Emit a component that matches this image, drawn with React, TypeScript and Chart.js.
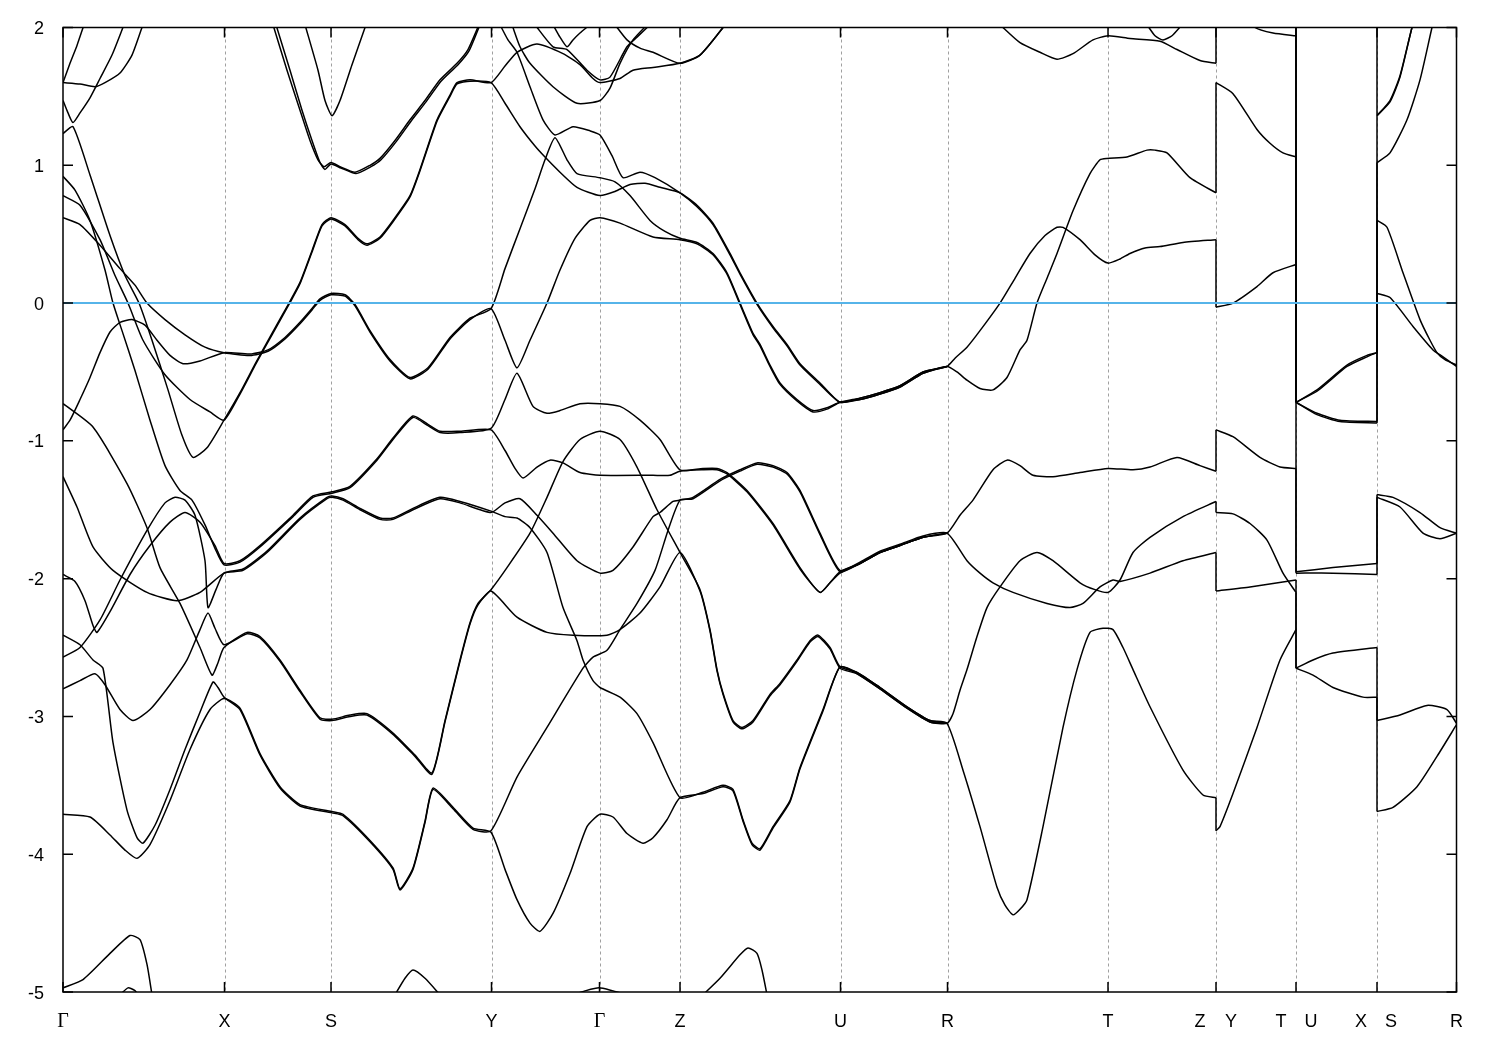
import React, { useEffect, useRef } from 'react';
import { Chart, registerables } from 'chart.js';
Chart.register(...registerables);

type P = [number, number];

// high-symmetry k positions (path distance units) and labels
const hsPositions = [0, 161.5, 268, 428.5, 536.5, 617, 777.5, 884.5, 1045, 1153, 1233, 1314, 1393.5];
const xLabels = ['Γ', 'X', 'S', 'Y', 'Γ', 'Z', 'U', 'R', 'T', 'Z', 'Y', 'T', 'U', 'X', 'S', 'R'];
const xLabelPos = [0, 161.5, 268, 428.5, 536.5, 617, 777.5, 884.5, 1045, 1153, 1153, 1233, 1233, 1314, 1314, 1393.5];
const xLabelShift = [0, 0, 0, 0, 0, 0, 0, 0, 0, -16, 15, -15, 15, -16, 14, 0];
const yTicks = [2, 1, 0, -1, -2, -3, -4, -5];
const fermiLine: P[] = [[0, 0], [1393.5, 0]];

const band01: P[] = [[0,1.60],[17,1.59],[32,1.57],[42,1.60],[57,1.67],[69,1.80],[79,2.00],[82,2.05]];
const band02: P[] = [[0,1.60],[7,1.74],[14,1.87],[21,2.02]];
const band03: P[] = [[0,1.47],[5,1.38],[10,1.31],[17,1.38],[27,1.49],[37,1.63],[49,1.80],[61,2.02]];
const band04: P[] = [[0,1.23],[10,1.28],[27,0.93],[47,0.49],[62,0.20],[76,0],[89,-0.27],[105,-0.63],[119,-0.96],[130,-1.12],[144,-1.05],[161,-0.85],[177,-0.65],[193,-0.43],[209,-0.22],[226,0],[237,0.15],[249,0.38],[259,0.57],[268,0.62],[282,0.57],[295,0.47],[304,0.43],[317,0.48],[330,0.60],[347,0.78],[357,0.97],[374,1.33],[387,1.51],[394,1.60],[407,1.62],[428,1.60],[442,1.72],[454,1.82],[474,1.88],[500,1.81],[517,1.73],[530,1.63],[537,1.60],[557,1.63],[570,1.69],[590,1.71],[617,1.74],[637,1.80],[660,2.0],[664,2.05]];
const band05: P[] = [[0,0.78],[17,0.71],[37,0.46],[52,0.20],[65,0],[80,-0.27],[102,-0.52],[127,-0.70],[147,-0.79],[161,-0.85],[177,-0.66],[193,-0.44],[209,-0.23],[226,-0.01],[237,0.14],[249,0.37],[259,0.56],[268,0.61],[282,0.56],[295,0.46],[304,0.42],[317,0.47],[330,0.59],[347,0.77],[357,0.96],[374,1.32],[387,1.50],[394,1.59],[407,1.61],[428,1.60],[442,1.45],[457,1.28],[472,1.14],[482,1.06],[497,0.95],[514,0.84],[537,0.78],[552,0.81],[567,0.86],[582,0.87],[597,0.84],[617,0.80],[634,0.71],[650,0.58],[667,0.36],[677,0.22],[694,0],[710,-0.17],[724,-0.30],[737,-0.44],[757,-0.58],[777,-0.72],[797,-0.69],[817,-0.65],[837,-0.60],[860,-0.50],[884,-0.46]];
const band06: P[] = [[0,-0.92],[7,-0.85],[17,-0.70],[27,-0.54],[37,-0.36],[47,-0.21],[57,-0.14],[69,-0.12],[82,-0.16],[94,-0.27],[107,-0.38],[120,-0.44],[137,-0.42],[161,-0.36],[187,-0.37],[205,-0.34],[222,-0.25],[237,-0.14],[249,-0.04],[257,0.03],[268,0.07],[282,0.06],[292,-0.01],[307,-0.20],[327,-0.41],[347,-0.54],[365,-0.47],[387,-0.25],[407,-0.11],[428,-0.04],[442,0.25],[457,0.54],[472,0.83],[482,1.04],[492,1.20],[504,1.04],[514,0.94],[537,0.91],[552,0.88],[567,0.78],[587,0.60],[602,0.52],[617,0.47],[634,0.44],[650,0.36],[664,0.22],[677,0],[690,-0.22],[697,-0.30],[707,-0.45],[717,-0.58],[734,-0.70],[750,-0.78],[764,-0.76],[777,-0.72],[797,-0.70],[817,-0.66],[837,-0.61],[860,-0.51],[884,-0.46]];
const band07: P[] = [[0,0.62],[17,0.57],[37,0.42],[57,0.25],[72,0.13],[84,0],[102,-0.12],[122,-0.23],[142,-0.32],[161,-0.36],[187,-0.38],[205,-0.35],[222,-0.26],[237,-0.15],[249,-0.05],[257,0.02],[268,0.06],[282,0.05],[292,-0.02],[307,-0.21],[327,-0.42],[347,-0.55],[365,-0.48],[387,-0.26],[407,-0.12],[428,-0.04],[442,-0.27],[454,-0.47],[467,-0.27],[484,0],[497,0.24],[512,0.47],[527,0.60],[537,0.62],[557,0.58],[590,0.48],[617,0.46],[634,0.43],[650,0.35],[664,0.21],[677,-0.01],[690,-0.23],[697,-0.31],[707,-0.46],[717,-0.59],[734,-0.71],[750,-0.79],[764,-0.77],[777,-0.72],[797,-0.69],[817,-0.65],[837,-0.60],[860,-0.50],[884,-0.46],[892,-0.40],[904,-0.32],[917,-0.20],[937,0],[952,0.18],[967,0.36],[982,0.49],[994,0.55],[1000,0.55],[1017,0.46],[1032,0.35],[1045,0.29],[1057,0.32],[1067,0.36],[1082,0.40],[1097,0.41],[1120,0.44],[1153,0.46],[1153,-0.03],[1170,0],[1194,0.12],[1210,0.22],[1233,0.28],[1233,-1.95],[1270,-1.92],[1314,-1.89],[1314,-1.39],[1330,-1.41],[1357,-1.52],[1377,-1.63],[1393.5,-1.67]];
const band08: P[] = [[0,0.92],[12,0.82],[27,0.60],[42,0.24],[50,0],[59,-0.20],[72,-0.49],[87,-0.85],[102,-1.18],[117,-1.36],[129,-1.43],[142,-1.61],[152,-1.78],[161,-1.90],[177,-1.88],[197,-1.77],[230,-1.55],[250,-1.41],[269,-1.38],[287,-1.34],[314,-1.14],[330,-0.99],[350,-0.83],[365,-0.89],[377,-0.94],[397,-0.94],[428,-0.91],[442,-0.70],[454,-0.51],[470,-0.75],[484,-0.80],[497,-0.78],[517,-0.73],[537,-0.73],[557,-0.75],[577,-0.85],[597,-0.99],[617,-1.21],[640,-1.20],[654,-1.20],[664,-1.23],[684,-1.36],[710,-1.60],[737,-1.92],[757,-2.10],[767,-2.03],[777,-1.95],[797,-1.89],[817,-1.81],[837,-1.76],[860,-1.70],[884,-1.67],[897,-1.54],[910,-1.43],[930,-1.21],[944,-1.14],[957,-1.18],[970,-1.25],[990,-1.26],[1017,-1.23],[1045,-1.20],[1070,-1.21],[1087,-1.19],[1114,-1.12],[1137,-1.18],[1153,-1.22],[1153,-0.92],[1170,-0.97],[1197,-1.12],[1217,-1.19],[1233,-1.20],[1233,-1.96],[1270,-1.96],[1314,-1.97],[1314,-1.41],[1337,-1.48],[1360,-1.67],[1377,-1.71],[1393.5,-1.67]];
const band09: P[] = [[0,-1.26],[14,-1.48],[30,-1.77],[50,-1.94],[84,-2.10],[114,-2.16],[137,-2.10],[161,-1.96],[180,-1.94],[204,-1.81],[237,-1.57],[264,-1.42],[269,-1.41],[280,-1.43],[297,-1.50],[317,-1.57],[330,-1.57],[350,-1.50],[377,-1.42],[397,-1.45],[428,-1.52],[442,-1.45],[457,-1.42],[474,-1.54],[490,-1.67],[514,-1.87],[537,-1.96],[550,-1.94],[570,-1.77],[590,-1.55],[597,-1.52],[610,-1.44],[617,-1.43],[630,-1.41],[657,-1.28],[677,-1.21],[694,-1.16],[710,-1.18],[724,-1.23],[737,-1.36],[757,-1.67],[777,-1.94],[797,-1.88],[817,-1.80],[837,-1.75],[860,-1.69],[884,-1.67],[904,-1.87],[917,-1.96],[930,-2.03],[950,-2.10],[984,-2.18],[1007,-2.21],[1020,-2.18],[1037,-2.06],[1050,-2.01],[1057,-2.02],[1087,-1.96],[1120,-1.87],[1153,-1.81],[1153,-2.09],[1187,-2.06],[1233,-2.01],[1233,-2.65],[1250,-2.59],[1270,-2.54],[1314,-2.50],[1314,-3.03],[1337,-2.99],[1364,-2.92],[1384,-2.95],[1393.5,-3.05]];
const band10: P[] = [[0,-0.73],[30,-0.90],[64,-1.31],[84,-1.63],[97,-1.92],[117,-2.18],[137,-2.50],[149,-2.70],[155,-2.61],[161,-2.50],[184,-2.39],[197,-2.42],[217,-2.59],[237,-2.81],[257,-3.01],[269,-3.02],[287,-2.99],[304,-2.98],[330,-3.12],[352,-3.28],[369,-3.41],[382,-3.03],[397,-2.59],[407,-2.32],[415,-2.18],[428,-2.08],[444,-1.92],[467,-1.67],[484,-1.41],[500,-1.15],[517,-0.99],[537,-0.93],[557,-0.99],[574,-1.19],[594,-1.50],[617,-1.81],[637,-2.08],[647,-2.37],[654,-2.66],[660,-2.83],[670,-3.03],[679,-3.08],[690,-3.03],[707,-2.84],[717,-2.76],[734,-2.59],[747,-2.45],[755,-2.41],[767,-2.50],[777,-2.64],[794,-2.68],[817,-2.79],[844,-2.93],[867,-3.03],[884,-3.05],[900,-3.39],[917,-3.80],[934,-4.24],[942,-4.37],[950,-4.44],[957,-4.40],[964,-4.33],[980,-3.80],[1000,-3.08],[1014,-2.66],[1027,-2.39],[1040,-2.36],[1050,-2.37],[1060,-2.50],[1070,-2.66],[1087,-2.93],[1120,-3.39],[1140,-3.57],[1153,-3.59],[1153,-3.83],[1157,-3.80],[1170,-3.56],[1194,-3.08],[1217,-2.59],[1233,-2.37]];
const band11: P[] = [[0,-2.57],[17,-2.50],[37,-2.30],[57,-2.01],[84,-1.65],[102,-1.45],[112,-1.41],[122,-1.43],[132,-1.54],[142,-1.87],[145,-2.21],[153,-2.08],[161,-1.96],[180,-1.93],[204,-1.80],[237,-1.56],[264,-1.41],[269,-1.40],[280,-1.42],[297,-1.49],[317,-1.56],[330,-1.56],[350,-1.49],[377,-1.41],[397,-1.44],[428,-1.51],[442,-1.55],[454,-1.56],[467,-1.63],[484,-1.81],[500,-2.21],[514,-2.45],[520,-2.59],[530,-2.74],[537,-2.79],[557,-2.86],[574,-2.98],[590,-3.19],[617,-3.59],[640,-3.55],[660,-3.50],[670,-3.53],[680,-3.75],[689,-3.92],[697,-3.96],[710,-3.80],[727,-3.61],[737,-3.37],[760,-2.95],[777,-2.64],[794,-2.69],[817,-2.80],[844,-2.94],[867,-3.04],[884,-3.05],[890,-2.98],[897,-2.81],[904,-2.66],[914,-2.42],[924,-2.21],[937,-2.06],[957,-1.87],[974,-1.81],[990,-1.87],[1017,-2.03],[1032,-2.08],[1045,-2.10],[1057,-2.01],[1070,-1.81],[1087,-1.70],[1120,-1.55],[1153,-1.44],[1153,-1.52],[1170,-1.53],[1187,-1.60],[1204,-1.72],[1220,-1.96],[1233,-2.10],[1233,-2.65],[1250,-2.70],[1270,-2.79],[1300,-2.86],[1314,-2.86],[1314,-3.69],[1330,-3.66],[1354,-3.51],[1374,-3.29],[1393.5,-3.06]];
const band12: P[] = [[0,-1.97],[12,-2.02],[22,-2.16],[30,-2.34],[34,-2.39],[47,-2.24],[67,-1.97],[87,-1.76],[107,-1.59],[122,-1.52],[137,-1.59],[152,-1.76],[161,-1.89],[177,-1.87],[197,-1.76],[230,-1.54],[250,-1.40],[269,-1.37],[287,-1.33],[314,-1.13],[330,-0.98],[350,-0.82],[365,-0.88],[377,-0.93],[397,-0.93],[428,-0.92],[442,-1.07],[452,-1.20],[460,-1.27],[474,-1.19],[487,-1.14],[500,-1.16],[517,-1.23],[537,-1.25],[590,-1.25],[607,-1.25],[617,-1.22],[640,-1.21],[654,-1.21],[664,-1.24],[684,-1.37],[710,-1.61],[737,-1.93],[757,-2.10],[767,-2.03],[777,-1.96],[797,-1.89],[817,-1.81],[837,-1.76],[860,-1.70],[884,-1.67]];
const band13: P[] = [[0,-3.71],[27,-3.73],[47,-3.86],[62,-3.97],[74,-4.03],[87,-3.93],[107,-3.61],[127,-3.24],[147,-2.95],[161,-2.87],[177,-2.94],[197,-3.27],[217,-3.51],[237,-3.64],[269,-3.69],[280,-3.71],[307,-3.90],[330,-4.10],[337,-4.25],[350,-4.10],[362,-3.76],[370,-3.52],[390,-3.66],[410,-3.81],[428,-3.84],[442,-4.11],[454,-4.33],[467,-4.50],[477,-4.56],[490,-4.43],[507,-4.14],[524,-3.80],[537,-3.71],[550,-3.73],[564,-3.85],[580,-3.92],[590,-3.88],[604,-3.75],[617,-3.59],[640,-3.56],[660,-3.51],[670,-3.54],[680,-3.76],[689,-3.93],[697,-3.97],[710,-3.81],[727,-3.62],[737,-3.38],[760,-2.96],[777,-2.64],[794,-2.68],[817,-2.79],[844,-2.93],[867,-3.03],[884,-3.05]];
const band14: P[] = [[0,-2.80],[17,-2.74],[32,-2.69],[42,-2.77],[57,-2.95],[70,-3.03],[87,-2.95],[107,-2.77],[124,-2.59],[137,-2.37],[145,-2.25],[152,-2.36],[161,-2.48],[184,-2.40],[197,-2.43],[217,-2.60],[237,-2.82],[257,-3.02],[269,-3.03],[287,-3.00],[304,-2.99],[330,-3.13],[352,-3.29],[369,-3.42],[382,-3.04],[397,-2.60],[407,-2.33],[415,-2.19],[428,-2.09],[454,-2.28],[484,-2.39],[510,-2.41],[544,-2.41],[557,-2.37],[577,-2.25],[597,-2.06],[617,-1.81],[637,-2.09],[647,-2.38],[654,-2.67],[660,-2.84],[670,-3.04],[679,-3.09],[690,-3.04],[707,-2.85],[717,-2.77],[734,-2.60],[747,-2.46],[755,-2.42],[767,-2.51],[777,-2.65],[794,-2.69],[817,-2.80],[844,-2.94],[867,-3.04],[884,-3.05]];
const band15: P[] = [[0,-2.41],[17,-2.48],[30,-2.59],[40,-2.65],[50,-3.19],[64,-3.68],[74,-3.88],[80,-3.92],[92,-3.79],[107,-3.53],[122,-3.24],[137,-2.97],[150,-2.75],[155,-2.79],[161,-2.86],[177,-2.95],[197,-3.28],[217,-3.52],[237,-3.65],[269,-3.70],[280,-3.72],[307,-3.91],[330,-4.11],[337,-4.26],[350,-4.11],[362,-3.77],[370,-3.53],[390,-3.67],[410,-3.82],[428,-3.83],[454,-3.44],[484,-3.08],[520,-2.65],[530,-2.57],[544,-2.52],[557,-2.37],[574,-2.18],[592,-1.94],[605,-1.65],[617,-1.43],[630,-1.42],[657,-1.29],[677,-1.22],[694,-1.17],[710,-1.19],[724,-1.24],[737,-1.37],[757,-1.68],[777,-1.95],[797,-1.89],[817,-1.81],[837,-1.76],[860,-1.70],[884,-1.67]];
const band16: P[] = [[437,2.02],[445,1.91],[454,1.82],[467,1.57],[480,1.33],[492,1.22],[510,1.28],[527,1.25],[537,1.22],[549,1.07],[560,0.91],[577,0.95],[592,0.91],[617,0.80],[634,0.70],[650,0.57],[667,0.35],[677,0.21],[694,-0.01],[710,-0.18],[724,-0.31],[737,-0.45],[757,-0.59],[777,-0.72],[797,-0.70],[817,-0.66],[837,-0.61],[860,-0.51],[884,-0.46],[894,-0.50],[904,-0.56],[917,-0.62],[930,-0.63],[944,-0.54],[957,-0.34],[964,-0.27],[974,0],[984,0.18],[994,0.36],[1010,0.67],[1027,0.94],[1037,1.04],[1044,1.05],[1064,1.06],[1084,1.11],[1092,1.11],[1104,1.09],[1127,0.91],[1153,0.80],[1153,1.60],[1170,1.52],[1194,1.26],[1207,1.16],[1220,1.09],[1233,1.06],[1233,-0.72],[1254,-0.80],[1277,-0.85],[1314,-0.86],[1314,0.60],[1324,0.55],[1340,0.22],[1357,-0.12],[1367,-0.27],[1374,-0.36],[1382,-0.41],[1393.5,-0.45]];
const band17: P[] = [[937,2.02],[957,1.89],[977,1.82],[994,1.77],[1010,1.81],[1030,1.91],[1045,1.94],[1067,1.92],[1097,1.90],[1114,1.84],[1137,1.76],[1153,1.74],[1153,2.3],[1175,2.15],[1192,2.0],[1210,1.96],[1233,1.94],[1233,-0.72],[1254,-0.63],[1284,-0.45],[1304,-0.38],[1314,-0.36],[1314,1.36],[1327,1.47],[1337,1.65],[1349,2.0],[1352,2.05]];
const band18: P[] = [[1233,2.3],[1233,-0.72],[1254,-0.64],[1284,-0.46],[1304,-0.39],[1314,-0.36],[1314,1.02],[1327,1.09],[1344,1.33],[1357,1.62],[1369,2.0],[1371,2.05]];
const band19: P[] = [[1233,2.3],[1233,-0.72],[1254,-0.81],[1277,-0.86],[1314,-0.87],[1314,0.07],[1327,0.04],[1350,-0.17],[1370,-0.34],[1380,-0.39],[1393.5,-0.46]];
const band20: P[] = [[1314,2.3],[1314,1.36],[1327,1.46],[1337,1.64],[1349,2.0],[1352,2.05]];
const band21: P[] = [[1084,2.02],[1092,1.94],[1100,1.91],[1109,1.94],[1119,2.02]];
const band22: P[] = [[449,2.02],[457,1.86],[467,1.74],[490,1.57],[514,1.45],[537,1.47],[547,1.56],[557,1.74],[570,1.91],[584,2.02]];
const band23: P[] = [[490,2.02],[497,1.93],[504,1.86],[510,1.91],[517,1.96],[527,2.02]];
const band24: P[] = [[472,2.02],[490,1.86],[504,1.84],[524,1.69],[537,1.62],[547,1.64],[564,1.86],[574,1.93],[587,2.02]];
const band25: P[] = [[552,2.02],[564,1.91],[577,1.85],[590,1.82],[617,1.74],[637,1.80],[660,2.0],[664,2.05]];
const band26: P[] = [[210,2.02],[224,1.69],[237,1.40],[247,1.18],[255,1.04],[261,0.99],[268,1.02],[277,0.99],[292,0.95],[307,1.00],[317,1.05],[332,1.18],[347,1.33],[362,1.47],[377,1.62],[394,1.74],[405,1.84],[416,2.02]];
const band27: P[] = [[213,2.02],[227,1.69],[239,1.40],[249,1.18],[257,1.02],[262,0.97],[268,1.01],[278,0.98],[293,0.94],[308,0.99],[318,1.04],[333,1.17],[348,1.32],[363,1.46],[378,1.61],[395,1.73],[406,1.83],[417,2.02]];
const band28: P[] = [[242,2.02],[255,1.69],[262,1.47],[269,1.36],[277,1.47],[289,1.73],[303,2.02]];
const band29: P[] = [[0,-4.97],[20,-4.91],[47,-4.72],[67,-4.59],[77,-4.62],[84,-4.80],[89,-5.02]];
const band30: P[] = [[57,-5.02],[65,-4.97],[72,-4.99],[75,-5.02]];
const band31: P[] = [[332,-5.02],[342,-4.90],[350,-4.84],[362,-4.90],[377,-5.02]];
const band32: P[] = [[510,-5.02],[523,-4.99],[536,-4.97],[549,-4.99],[564,-5.02]];
const band33: P[] = [[640,-5.02],[657,-4.90],[677,-4.73],[685,-4.68],[694,-4.72],[699,-4.84],[704,-5.02]];

const bands: P[][] = [band01, band02, band03, band04, band05, band06, band07, band08, band09, band10, band11, band12, band13, band14, band15, band16, band17, band18, band19, band20, band21, band22, band23, band24, band25, band26, band27, band28, band29, band30, band31, band32, band33];

function lineSet(pts: P[], tension: number, color = '#000', width = 1.5, order = 1) {
  return {
    data: pts.map(([x, y]) => ({ x, y })),
    showLine: true,
    borderColor: color,
    backgroundColor: color,
    borderWidth: width,
    pointRadius: 0,
    pointHoverRadius: 0,
    tension,
    fill: false,
    order,
  };
}

function bandToDatasets(band: P[]) {
  const out: any[] = [];
  let seg: P[] = [band[0]];
  for (let i = 1; i < band.length; i++) {
    const p = band[i];
    const q = band[i - 1];
    if (p[0] === q[0]) {
      if (seg.length > 1) out.push(lineSet(seg, 0.2));
      out.push(lineSet([q, p], 0));
      seg = [p];
    } else {
      seg.push(p);
    }
  }
  if (seg.length > 1) out.push(lineSet(seg, 0.2));
  return out;
}

const framePlugin = {
  id: 'frame',
  beforeDatasetsDraw(chart: any) {
    const { ctx, chartArea: a, scales } = chart;
    const x = scales.x;
    ctx.save();
    ctx.strokeStyle = '#a0a0a0';
    ctx.lineWidth = 1;
    ctx.setLineDash([3, 3]);
    hsPositions.forEach((k, i) => {
      if (i === 0 || i === hsPositions.length - 1) return;
      const px = Math.round(x.getPixelForValue(k)) + 0.5;
      ctx.beginPath();
      ctx.moveTo(px, a.top);
      ctx.lineTo(px, a.bottom);
      ctx.stroke();
    });
    ctx.restore();
  },
  afterDraw(chart: any) {
    const { ctx, chartArea: a, scales } = chart;
    const x = scales.x;
    const y = scales.y;
    ctx.save();
    ctx.setLineDash([]);
    ctx.strokeStyle = '#000';
    ctx.lineWidth = 1.5;
    ctx.strokeRect(a.left, a.top, a.right - a.left, a.bottom - a.top);
    ctx.beginPath();
    hsPositions.forEach((k) => {
      const px = x.getPixelForValue(k);
      ctx.moveTo(px, a.bottom);
      ctx.lineTo(px, a.bottom - 10);
      ctx.moveTo(px, a.top);
      ctx.lineTo(px, a.top + 10);
    });
    yTicks.forEach((v) => {
      const py = y.getPixelForValue(v);
      ctx.moveTo(a.left, py);
      ctx.lineTo(a.left + 10, py);
      ctx.moveTo(a.right, py);
      ctx.lineTo(a.right - 10, py);
    });
    ctx.stroke();
    ctx.fillStyle = '#000';
    ctx.font = '18px "Liberation Sans", Arial, sans-serif';
    ctx.textAlign = 'right';
    ctx.textBaseline = 'alphabetic';
    yTicks.forEach((v) => {
      ctx.fillText(String(v), a.left - 19, y.getPixelForValue(v) + 6.5);
    });
    ctx.textAlign = 'center';
    xLabels.forEach((t, i) => {
      ctx.font = t === 'Γ' ? '20px "Liberation Serif", "DejaVu Serif", serif' : '18px "Liberation Sans", Arial, sans-serif';
      ctx.fillText(t, x.getPixelForValue(xLabelPos[i]) + xLabelShift[i], a.bottom + 35);
    });
    ctx.restore();
  },
};

export default function App() {
  const ref = useRef<HTMLCanvasElement>(null);
  useEffect(() => {
    const datasets: any[] = [];
    bands.forEach((b) => datasets.push(...bandToDatasets(b)));
    datasets.push(lineSet(fermiLine, 0, '#56b4e9', 2, 0));
    const chart = new Chart(ref.current as HTMLCanvasElement, {
      type: 'scatter',
      data: { datasets },
      options: {
        animation: false,
        responsive: false,
        devicePixelRatio: 1,
        events: [],
        layout: { padding: { left: 63, right: 43.5, top: 27.5, bottom: 58 } },
        plugins: { legend: { display: false }, tooltip: { enabled: false } },
        scales: {
          x: { type: 'linear', min: 0, max: 1393.5, display: false },
          y: { type: 'linear', min: -5, max: 2, display: false },
        },
      },
      plugins: [framePlugin],
    } as any);
    return () => chart.destroy();
  }, []);
  return (
    <div style={{ position: 'fixed', left: 0, top: 0, width: 1500, height: 1050, background: '#fff' }}>
      <canvas ref={ref} width={1500} height={1050} style={{ width: 1500, height: 1050, display: 'block' }} />
    </div>
  );
}
